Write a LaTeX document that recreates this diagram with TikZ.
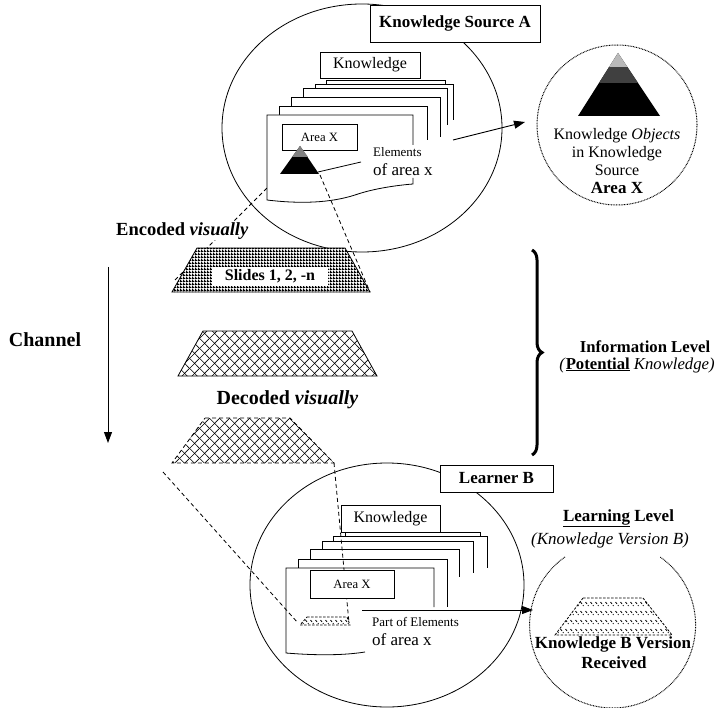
\documentclass[tikz,border=0pt]{standalone}
\usepackage{fontspec}
\setmainfont{Liberation Serif}
\usetikzlibrary{arrows.meta,patterns,decorations.pathreplacing,shapes.geometric}

\pgfdeclarepatternformonly{diam}{\pgfpointorigin}{\pgfpoint{10pt}{10pt}}{\pgfpoint{10pt}{10pt}}{%
  \pgfsetlinewidth{0.65pt}%
  \pgfpathmoveto{\pgfpoint{-1pt}{-1pt}}\pgfpathlineto{\pgfpoint{11pt}{11pt}}%
  \pgfpathmoveto{\pgfpoint{-1pt}{11pt}}\pgfpathlineto{\pgfpoint{11pt}{-1pt}}%
  \pgfusepath{stroke}}
\pgfdeclarepatternformonly{chk}{\pgfpointorigin}{\pgfpoint{3pt}{3pt}}{\pgfpoint{3pt}{3pt}}{%
  \pgfpathrectangle{\pgfpointorigin}{\pgfpoint{3pt}{1.6pt}}%
  \pgfpathrectangle{\pgfpointorigin}{\pgfpoint{1.6pt}{3pt}}%
  \pgfusepath{fill}}
\pgfdeclarepatternformonly{hatchb}{\pgfpoint{-0.5pt}{-0.5pt}}{\pgfpoint{5.5pt}{9.5pt}}{\pgfpoint{5pt}{9pt}}{%
  \pgfsetlinewidth{0.8pt}%
  \pgfpathmoveto{\pgfpoint{0.5pt}{7pt}}\pgfpathlineto{\pgfpoint{3.5pt}{3pt}}%
  \pgfusepath{stroke}}

\begin{document}
\begin{tikzpicture}[x=1pt,y=-1pt,
  ln/.style={line width=0.8pt},
  box/.style={draw, line width=0.9pt, fill=white, inner sep=0pt},
  dsh/.style={dash pattern=on 4pt off 3pt, line width=0.8pt},
  sdsh/.style={dash pattern=on 2.5pt off 1.5pt, line width=0.8pt},
  dotln/.style={dash pattern=on 0.8pt off 0.8pt, line width=1pt},
  arr/.style={-{Triangle[length=11pt,width=8pt]}, line width=0.9pt},
  f12/.style={font=\fontsize{12.7}{14}\selectfont},
  f13/.style={font=\fontsize{13}{15}\selectfont},
  f16/.style={font=\fontsize{16}{18}\selectfont},
  f17/.style={font=\fontsize{17}{20}\selectfont},
  b16/.style={font=\fontsize{16}{18}\selectfont\bfseries},
  b17/.style={font=\fontsize{17}{20}\selectfont\bfseries},
  b19/.style={font=\fontsize{18.5}{22}\selectfont\bfseries},
  b20/.style={font=\fontsize{20}{24}\selectfont\bfseries},
]
\useasboundingbox (0,0) rectangle (727,708);

%================ TOP: knowledge source =================
\node[ellipse, draw, ln, minimum width=280pt, minimum height=248pt, inner sep=0pt] (srcE) at (362,128) {};
\node[box, b17, minimum width=170pt, minimum height=37pt] (srcA) at (455,23.5) {Knowledge Source A};

% dashed line from slides to source page
\coordinate (d1a) at (175,280);
\coordinate (d1b) at (268,187);
\draw[dsh] (d1a) -- (d1b);

% stacked pages
\foreach \l/\t/\r/\b in {326/80/445/110, 315/84/453/120, 303/88/447/125, 291/97/440/137, 279/106/427/140}{
  \fill[white] (\l,\t) rectangle (\r,\b);
  \draw[ln] (\l,\b) -- (\l,\t) -- (\r,\t) -- (\r,\b);
}
\node[box, f16, minimum width=100pt, minimum height=26pt] (tabA) at (370,65) {Knowledge};
\fill[white] (267,115) -- (413,115) -- (413,184) .. controls (400,185) and (375,188) .. (355,195) .. controls (330,203) and (300,204) .. (267,200) -- cycle;
\draw[ln] (413,145) -- (413,115) -- (267,115) -- (267,200) .. controls (300,204) and (330,203) .. (355,195) .. controls (375,188) and (400,185) .. (413,184) -- (413,178);

\node[box, f12, minimum width=75pt, minimum height=26pt] (areaA) at (319.5,137) {Area X};
\coordinate (triA) at (300,146);
\coordinate (triL) at (280,174);
\coordinate (triR) at (319,174);
\fill (triA) -- (triL) -- (triR) -- cycle;
\fill[gray] (300,146) -- (292,157) -- (308,157) -- cycle;
\coordinate (triE) at (318,172);
\coordinate (elemL) at (361,162);
\draw[ln] (triE) -- (elemL);
\node[f13, anchor=west, inner sep=0pt] (elem1) at (373,152) {Elements};
\node[f17, anchor=west, inner sep=0pt] (elem2) at (373,170) {of area x};

% arrow to knowledge objects
\coordinate (arrS) at (453,140);
\coordinate (arrE) at (525,122);
\draw[arr] (arrS) -- (arrE);

% knowledge objects circle
\node[circle, draw, dotln, minimum size=160pt, inner sep=0pt] (objC) at (617,125) {};
\begin{scope}
  \clip (618,53) -- (578,116) -- (660,116) -- cycle;
  \fill (570,50) rectangle (670,120);
  \fill[gray!55] (570,50) rectangle (670,67);
  \fill[black!75] (570,67) rectangle (670,83);
\end{scope}
\node[f16, align=center, inner sep=0pt] (objT) at (617,161) {Knowledge \textit{Objects}\\in Knowledge\\Source\\{\fontsize{17}{18}\selectfont\bfseries Area X}};

%================ MIDDLE: channel =================
\node[b19, anchor=west, fill=white, inner sep=1pt] (enc) at (115,231) {Encoded \textit{visually}};

\coordinate (eTL) at (197,248);
\coordinate (eTR) at (345,248);
\coordinate (eBR) at (370,292);
\coordinate (eBL) at (172,292);
\draw[ln, preaction={fill=white}, pattern=chk] (eTL) -- (eTR) -- (eBR) -- (eBL) -- cycle;
\node[fill=white, b16, minimum width=116pt, minimum height=18pt, inner sep=0pt] (slides) at (270,276.5) {Slides 1, 2, -n};

\coordinate (triB) at (320,175);
\draw[dsh] (triB) -- (eBR);

\coordinate (mTL) at (203,331);
\coordinate (mTR) at (352,331);
\coordinate (mBR) at (377,376);
\coordinate (mBL) at (178,376);
\draw[ln, preaction={fill=white}, pattern=diam] (mTL) -- (mTR) -- (mBR) -- (mBL) -- cycle;

\node[b20] (dec) at (287.5,400) {Decoded \textit{visually}};

\coordinate (bTL) at (205,418);
\coordinate (bTR) at (290,418);
\coordinate (bBR) at (334,463);
\coordinate (bBL) at (172,463);
\draw[dsh, preaction={fill=white}, pattern=diam] (bTL) -- (bTR) -- (bBR) -- (bBL) -- cycle;

\node[b20] (chan) at (45,340) {Channel};
\coordinate (chT) at (108,267);
\coordinate (chB) at (108,443);
\draw[arr] (chT) -- (chB);

\coordinate (brT) at (532,250);
\coordinate (brB) at (532,455);
\draw[decorate, decoration={brace, amplitude=10pt}, line width=3pt] (brT) -- (brB);
\node[font=\fontsize{16.7}{20}\selectfont\bfseries] (info) at (645,347) {Information Level};
\node[font=\fontsize{16.7}{20}\selectfont] (pot) at (637,365) {\textit{(}\textbf{\underline{Potential}} \textit{Knowledge)}};

%================ BOTTOM: learner =================
\node[ellipse, draw, ln, minimum width=274pt, minimum height=244pt, inner sep=0pt] (lrnE) at (387,585) {};
\node[box, b17, minimum width=113pt, minimum height=27pt] (lrnB) at (496.5,478.5) {Learner B};

\foreach \l/\t/\r/\b in {345/532/480/550, 333/536/487/568, 322/541/473/573, 310/549/459/577, 298/559/447/607}{
  \fill[white] (\l,\t) rectangle (\r,\b);
  \draw[ln] (\l,\b) -- (\l,\t) -- (\r,\t) -- (\r,\b);
}
\node[box, f16, minimum width=99pt, minimum height=27pt] (tabB) at (390.5,518.5) {Knowledge};
\fill[white] (286,568) -- (434,568) -- (434,645) -- (365,652) .. controls (340,656) and (310,655) .. (286,653) -- cycle;
\draw[ln] (434,607) -- (434,568) -- (286,568) -- (286,653) .. controls (310,655) and (340,656) .. (365,652);

\coordinate (d3a) at (163,472);
\coordinate (sBL) at (300,625);
\coordinate (sBR) at (350,625);
\coordinate (sTL) at (307,617);
\coordinate (sTR) at (347,617);
\coordinate (d3b) at (298,623);
\coordinate (d4b) at (349,623);
\draw[dsh] (d3a) -- (d3b);
\draw[dsh] (bBR) -- (d4b);

\node[box, f12, minimum width=84pt, minimum height=28pt] (areaB) at (352,584) {Area X};
\draw[sdsh, preaction={fill=white}, pattern=hatchb] (sTL) -- (sTR) -- (sBR) -- (sBL) -- cycle;

\node[f13, anchor=west, inner sep=0pt] (pel1) at (372,622) {Part of Elements};
\node[f17, anchor=west, inner sep=0pt] (pel2) at (372,640) {of area x};

\coordinate (arrB) at (362,610);
\coordinate (arrBE) at (533,610);
\draw[arr] (arrB) -- (arrBE);

\node[b17] (lrnL) at (618.5,518) {\underline{Learning} Level};
\node[font=\fontsize{17}{20}\selectfont\itshape] (lrnV) at (610,540) {(Knowledge Version B)};

\coordinate (lcC) at (613,625);
\draw[dotln] (565,557) arc[start angle=125, end angle=415, radius=83pt];
\draw[sdsh, pattern=hatchb] (583,598) -- (643,598) -- (672,635) -- (555,635) -- cycle;
\node[b17] (kbv) at (613,644) {Knowledge B Version};
\node[b17] (rec) at (614,663) {Received};
\end{tikzpicture}
\end{document}
